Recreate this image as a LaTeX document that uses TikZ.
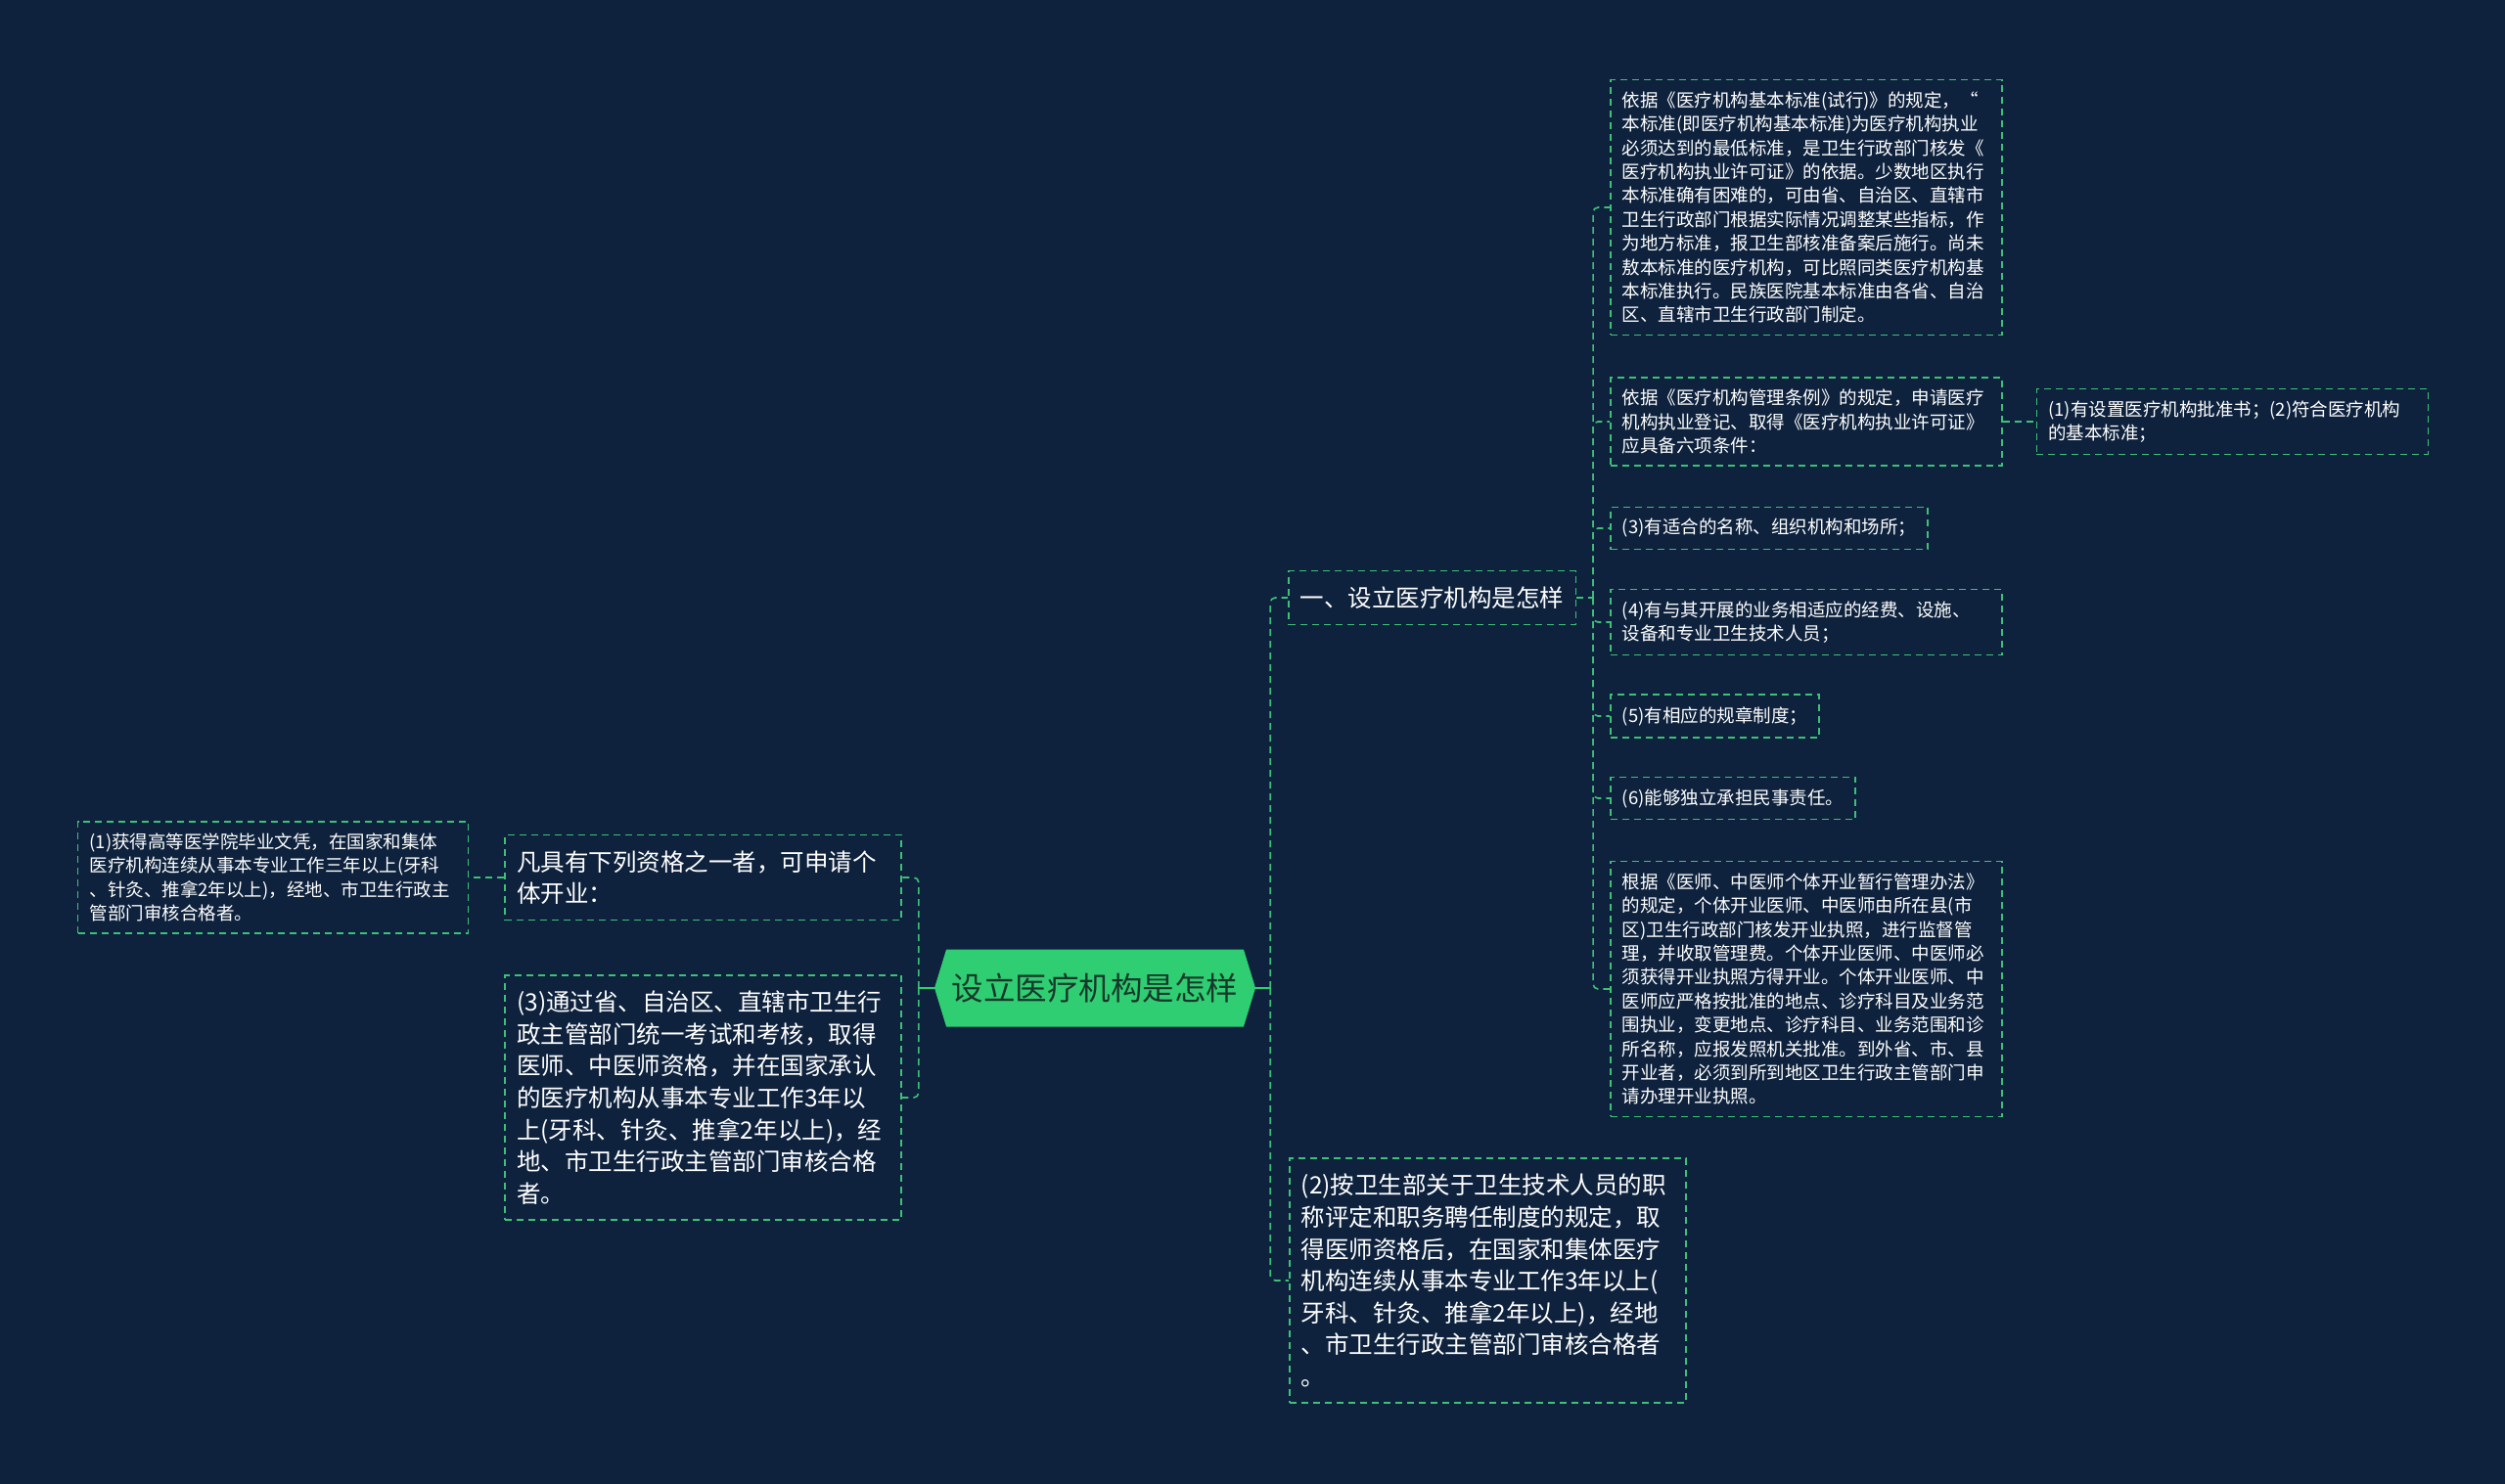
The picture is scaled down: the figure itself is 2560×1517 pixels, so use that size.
\documentclass[tikz,border=0pt]{standalone}
\usepackage{fontspec}
\setmainfont{Noto Sans CJK SC}
\usepackage{xcolor}
\usepackage{tikz}
\usetikzlibrary{positioning,calc,shapes.symbols}
\definecolor{bgnavy}{RGB}{14,34,61}
\definecolor{linegreen}{RGB}{62,192,118}
\definecolor{rootgreen}{RGB}{48,206,114}
\definecolor{roottext}{RGB}{22,56,42}

\begin{document}
\begin{tikzpicture}[x=1pt,y=-1pt,
  smallbox/.style={draw=linegreen,dash pattern=on 7pt off 5pt,line width=1.6pt,text=white,align=left,inner xsep=12pt,inner ysep=12pt,font=\fontsize{18.5}{24.4}\selectfont},
  bigbox/.style={smallbox,inner ysep=16pt,font=\fontsize{24.5}{32.6}\selectfont},
  rootbox/.style={signal,signal to=west and east,signal pointer angle=146,fill=rootgreen,text=roottext,minimum width=328pt,minimum height=79pt,inner sep=0pt,font=\fontsize{32.5}{36}\selectfont},
  link/.style={draw=linegreen,dash pattern=on 7pt off 5pt,line width=1.6pt,rounded corners=5pt},
  rootlink/.style={draw=rootgreen,line width=2.4pt}]
\fill[bgnavy](0,0) rectangle (2560,1517);
\useasboundingbox (0,0) rectangle (2560,1517);

\node[rootbox](root) at (1119,1010){设立医疗机构是怎样};

% right side
\node[bigbox,anchor=west](sec1) at (1316,611){一、设立医疗机构是怎样};
\node[bigbox,anchor=west,text width=381pt](sec2) at (1317,1309){(2)按卫生部关于卫生技术人员的职\\称评定和职务聘任制度的规定，取\\得医师资格后，在国家和集体医疗\\机构连续从事本专业工作3年以上(\\牙科、针灸、推拿2年以上)，经地\\、市卫生行政主管部门审核合格者\\。};

\node[smallbox,anchor=west,text width=376pt](std) at (1645,212){依据《医疗机构基本标准(试行)》的规定，“\\本标准(即医疗机构基本标准)为医疗机构执业\\必须达到的最低标准，是卫生行政部门核发《\\医疗机构执业许可证》的依据。少数地区执行\\本标准确有困难的，可由省、自治区、直辖市\\卫生行政部门根据实际情况调整某些指标，作\\为地方标准，报卫生部核准备案后施行。尚未\\敖本标准的医疗机构，可比照同类医疗机构基\\本标准执行。民族医院基本标准由各省、自治\\区、直辖市卫生行政部门制定。};
\node[smallbox,anchor=west,text width=376pt](cond) at (1645,431){依据《医疗机构管理条例》的规定，申请医疗\\机构执业登记、取得《医疗机构执业许可证》\\应具备六项条件：};
\node[smallbox,text width=376pt,right=34pt of cond](c12){(1)有设置医疗机构批准书；(2)符合医疗机构\\的基本标准；};
\node[smallbox,anchor=west](c3) at (1645,540){(3)有适合的名称、组织机构和场所；};
\node[smallbox,anchor=west,text width=376pt](c4) at (1645,636){(4)有与其开展的业务相适应的经费、设施、\\设备和专业卫生技术人员；};
\node[smallbox,anchor=west](c5) at (1645,732){(5)有相应的规章制度；};
\node[smallbox,anchor=west](c6) at (1645,816){(6)能够独立承担民事责任。};
\node[smallbox,anchor=west,text width=376pt](solo) at (1645,1011){根据《医师、中医师个体开业暂行管理办法》\\的规定，个体开业医师、中医师由所在县(市\\区)卫生行政部门核发开业执照，进行监督管\\理，并收取管理费。个体开业医师、中医师必\\须获得开业执照方得开业。个体开业医师、中\\医师应严格按批准的地点、诊疗科目及业务范\\围执业，变更地点、诊疗科目、业务范围和诊\\所名称，应报发照机关批准。到外省、市、县\\开业者，必须到所到地区卫生行政主管部门申\\请办理开业执照。};

% left side
\node[bigbox,anchor=east,text width=381pt](qual) at (922,897){凡具有下列资格之一者，可申请个\\体开业：};
\node[bigbox,anchor=east,text width=381pt](exam) at (922,1122){(3)通过省、自治区、直辖市卫生行\\政主管部门统一考试和考核，取得\\医师、中医师资格，并在国家承认\\的医疗机构从事本专业工作3年以\\上(牙科、针灸、推拿2年以上)，经\\地、市卫生行政主管部门审核合格\\者。};
\node[smallbox,text width=375pt,left=36pt of qual](grad){(1)获得高等医学院毕业文凭，在国家和集体\\医疗机构连续从事本专业工作三年以上(牙科\\、针灸、推拿2年以上)，经地、市卫生行政主\\管部门审核合格者。};

% connectors
\coordinate(rj) at ($(root.east)+(15,0)$);
\coordinate(lj) at ($(root.west)+(-16,0)$);
\coordinate(sj) at ($(sec1.east)+(17,0)$);
\draw[rootlink](root.east)--(rj);
\draw[rootlink](root.west)--(lj);
\draw[link](rj)|-(sec1.west);
\draw[link](rj)|-(sec2.west);
\draw[link](lj)|-(qual.east);
\draw[link](lj)|-(exam.east);
\draw[link](qual.west)--(grad.east);
\draw[link](sec1.east)--(sj);
\foreach \n in {std,cond,c3,c4,c5,c6,solo} \draw[link](sj)|-(\n.west);
\draw[link](cond.east)--(c12.west);
\end{tikzpicture}
\end{document}
